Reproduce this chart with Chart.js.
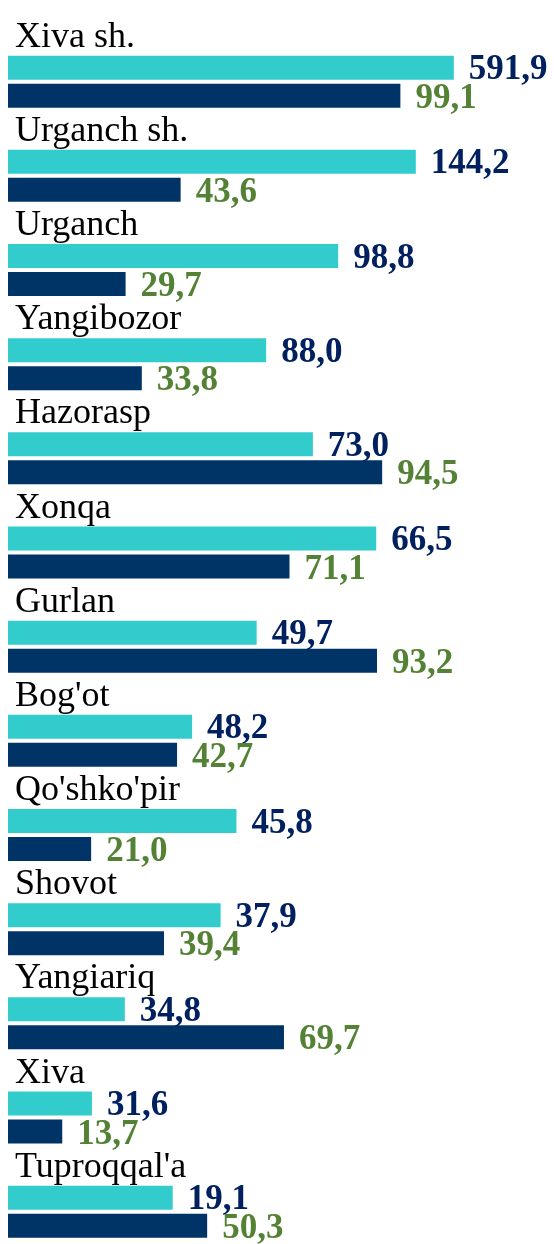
<!DOCTYPE html>
<html>
<head>
<meta charset="utf-8">
<script src="https://cdn.jsdelivr.net/npm/chart.js@4/dist/chart.umd.min.js"></script>
<style>
  html, body { margin: 0; padding: 0; background: #ffffff; }
  #wrap { width: 554px; height: 1244px; position: relative; }
</style>
</head>
<body>
<div id="wrap"><canvas id="c" width="554" height="1244"></canvas></div>
<script>
// ---- data ----
const categories = ["Xiva sh.", "Urganch sh.", "Urganch", "Yangibozor", "Hazorasp", "Xonqa", "Gurlan", "Bog'ot", "Qo'shko'pir", "Shovot", "Yangiariq", "Xiva", "Tuproqqal'a"];
// cyan bar lengths (as drawn in the picture)
const seriesA = [112.6, 103.0, 83.4, 65.2, 77.0, 93.0, 62.8, 46.5, 57.7, 53.7, 29.5, 21.2, 41.6];
// numbers printed next to cyan bars
const seriesALabels = [591.9, 144.2, 98.8, 88.0, 73.0, 66.5, 49.7, 48.2, 45.8, 37.9, 34.8, 31.6, 19.1];
// navy bars (and their printed numbers)
const seriesB = [99.1, 43.6, 29.7, 33.8, 94.5, 71.1, 93.2, 42.7, 21.0, 39.4, 69.7, 13.7, 50.3];

const fmt = v => v.toFixed(1).replace('.', ',');

const labelPlugin = {
  id: 'labelPlugin',
  afterDatasetsDraw(chart) {
    const ctx = chart.ctx;
    const metaA = chart.getDatasetMeta(0);
    const metaB = chart.getDatasetMeta(1);
    ctx.save();
    ctx.textAlign = 'left';
    ctx.textBaseline = 'alphabetic';
    // category names
    ctx.font = '36px "Liberation Serif", "Times New Roman", serif';
    ctx.fillStyle = '#000000';
    metaA.data.forEach((bar, i) => {
      const top = bar.y - bar.height / 2;
      ctx.fillText(categories[i], 15, top - 9);
    });
    // value labels
    ctx.font = 'bold 35px "Liberation Serif", "Times New Roman", serif';
    metaA.data.forEach((bar, i) => {
      ctx.fillStyle = '#002060';
      ctx.fillText(fmt(seriesALabels[i]), bar.x + 15, bar.y + 11.5);
    });
    metaB.data.forEach((bar, i) => {
      ctx.fillStyle = '#548235';
      ctx.fillText(fmt(seriesB[i]), bar.x + 15, bar.y + 12);
    });
    ctx.restore();
  }
};

new Chart(document.getElementById('c'), {
  type: 'bar',
  data: {
    labels: categories,
    datasets: [
      { data: seriesA, backgroundColor: '#33CCCC', clip: false,
        categoryPercentage: 0.5947, barPercentage: 0.857 },
      { data: seriesB, backgroundColor: '#003366', clip: false,
        categoryPercentage: 0.5947, barPercentage: 0.857 }
    ]
  },
  options: {
    indexAxis: 'y',
    responsive: false,
    animation: false,
    layout: { padding: { left: 8, right: 0, top: 81.7, bottom: 32.3 } },
    plugins: { legend: { display: false }, tooltip: { enabled: false } },
    scales: {
      x: { display: false, min: 0, max: 137.9 },
      y: { display: false, offset: false, grid: { display: false } }
    }
  },
  plugins: [labelPlugin]
});
</script>
</body>
</html>
